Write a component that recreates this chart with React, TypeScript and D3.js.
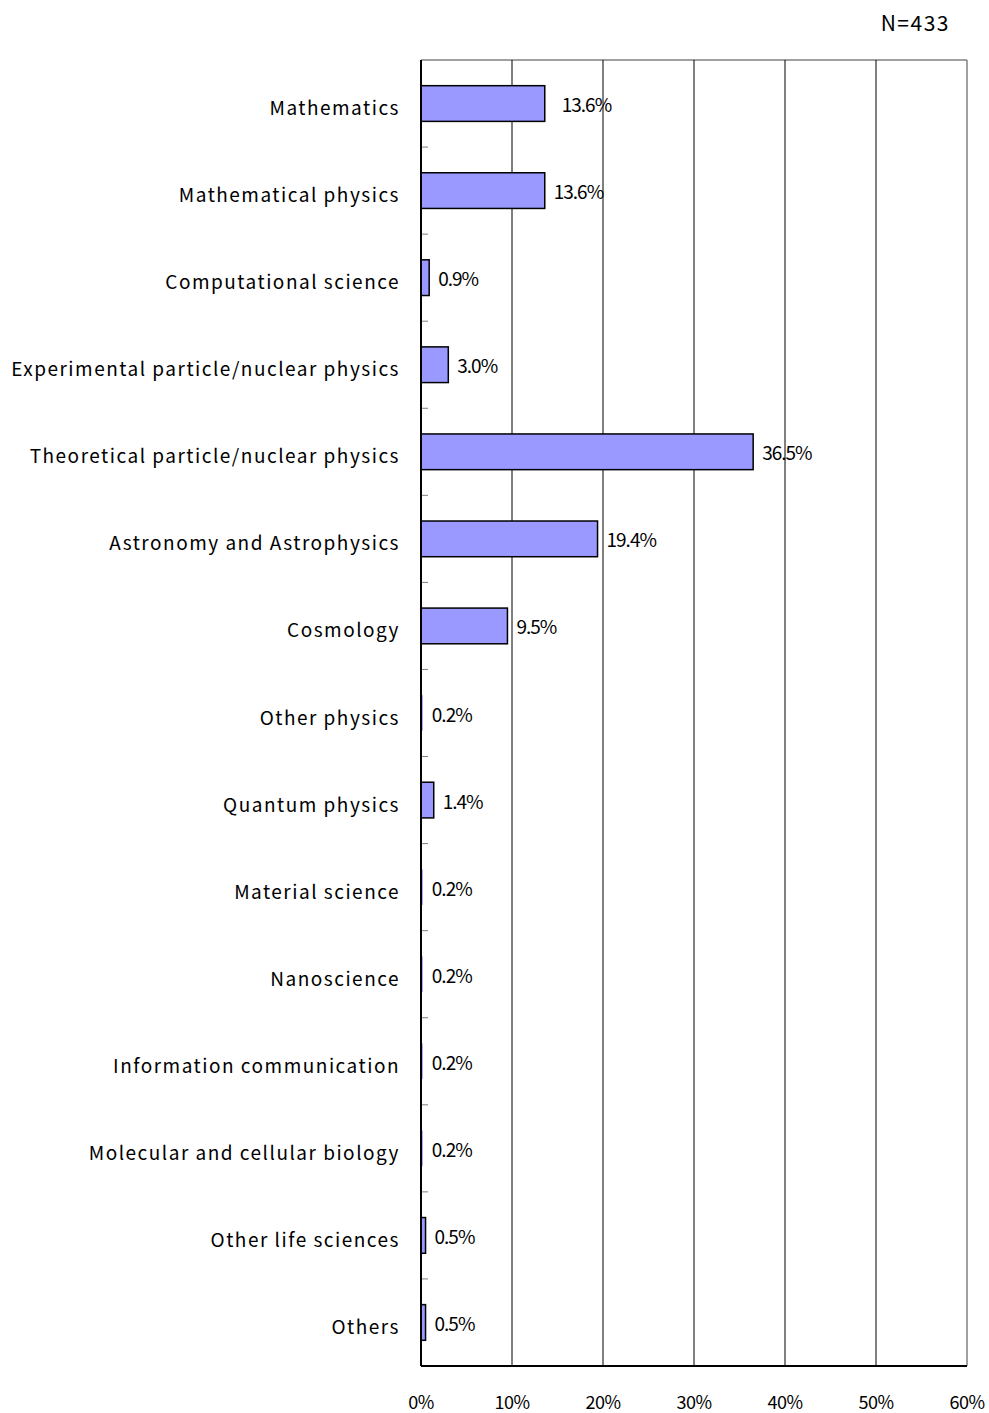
import React from "react";
import * as d3 from "d3";

const categories = [
  "Mathematics",
  "Mathematical physics",
  "Computational science",
  "Experimental particle/nuclear physics",
  "Theoretical particle/nuclear physics",
  "Astronomy and Astrophysics",
  "Cosmology",
  "Other physics",
  "Quantum physics",
  "Material science",
  "Nanoscience",
  "Information communication",
  "Molecular and cellular biology",
  "Other life sciences",
  "Others",
];
const values = [13.6, 13.6, 0.9, 3.0, 36.5, 19.4, 9.5, 0.2, 1.4, 0.2, 0.2, 0.2, 0.2, 0.5, 0.5];
const xTicks = [0, 10, 20, 30, 40, 50, 60];
const nLabel = "N=433";

const W = 989;
const H = 1413;
const left = 421;
const right = 967;
const top = 60;
const bottom = 1366;
const FONT = "'Noto Sans CJK JP', 'Noto Sans', sans-serif";

export default function App() {
  const x = d3.scaleLinear().domain([0, 60]).range([left, right]);
  const y = d3.scaleBand<string>().domain(categories).range([top, bottom]).paddingInner(0.59).paddingOuter(0.295);
  const band = (bottom - top) / categories.length;
  const bounds = d3.range(1, categories.length).map((i) => top + i * band);

  return (
    <svg width={W} height={H} style={{ position: "absolute", left: 0, top: 0, background: "#fff" }}>
      <rect x={0} y={0} width={W} height={H} fill="#fff" />
      <text x={950} y={22} textAnchor="end" dominantBaseline="central" fontFamily={FONT} fontSize={21} letterSpacing={1.5} fill="#000">
        {nLabel}
      </text>
      {/* plot border top/right */}
      <line x1={left} x2={right} y1={top} y2={top} stroke="#808080" strokeWidth={1.5} />
      <line x1={right} x2={right} y1={top} y2={bottom} stroke="#808080" strokeWidth={1.5} />
      {/* gridlines */}
      {xTicks.slice(1, -1).map((t) => (
        <line key={t} x1={x(t)} x2={x(t)} y1={top} y2={bottom} stroke="#000" strokeWidth={1} />
      ))}
      {/* bars */}
      {categories.map((c, i) => (
        <rect
          key={c}
          x={x(0)}
          y={y(c)!}
          width={x(values[i]) - x(0)}
          height={y.bandwidth()}
          fill="#9999FF"
          stroke="#000"
          strokeWidth={values[i] < 0.3 ? 0 : 1.5}
        />
      ))}
      {/* value labels */}
      {categories.map((c, i) => (
        <text
          key={c + "v"}
          x={x(values[i]) + (i === 0 ? 17 : 9)}
          y={y(c)! + y.bandwidth() / 2}
          dominantBaseline="central"
          fontFamily={FONT}
          fontSize={19}
          letterSpacing={-1}
          fill="#000"
        >
          {values[i].toFixed(1)}%
        </text>
      ))}
      {/* category labels */}
      {categories.map((c) => (
        <text
          key={c + "l"}
          x={400}
          y={y(c)! + y.bandwidth() / 2 + 3}
          textAnchor="end"
          dominantBaseline="central"
          fontFamily={FONT}
          fontSize={19}
          letterSpacing={1.5}
          fill="#000"
        >
          {c}
        </text>
      ))}
      {/* small ticks at category boundaries */}
      {bounds.map((b, i) => (
        <line key={i} x1={left} x2={left + 7} y1={b} y2={b} stroke="#808080" strokeWidth={1} />
      ))}
      {/* axes */}
      <line x1={left} x2={left} y1={top} y2={bottom} stroke="#000" strokeWidth={2} />
      <line x1={left} x2={right} y1={bottom} y2={bottom} stroke="#000" strokeWidth={2} />
      {xTicks.map((t) => (
        <text
          key={t + "t"}
          x={x(t)}
          y={1401}
          textAnchor="middle"
          dominantBaseline="central"
          fontFamily={FONT}
          fontSize={18}
          letterSpacing={-0.5}
          fill="#000"
        >
          {t}%
        </text>
      ))}
    </svg>
  );
}
